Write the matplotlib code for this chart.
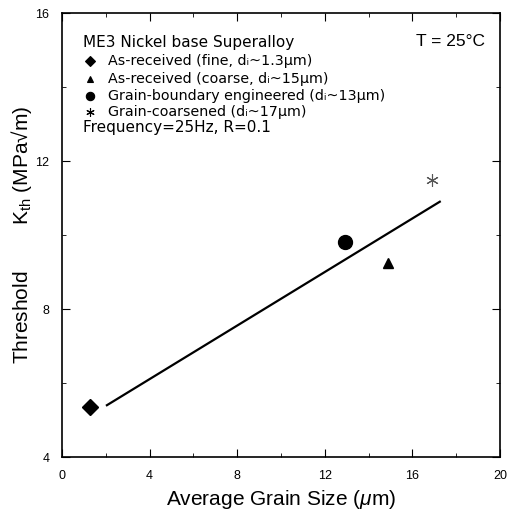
import numpy as np
import matplotlib
matplotlib.use("Agg")
import matplotlib.pyplot as plt

plt.rcParams['font.family'] = ['Liberation Sans', 'DejaVu Sans']
plt.rcParams['mathtext.fontset'] = 'custom'
plt.rcParams['mathtext.rm'] = 'Liberation Sans'
plt.rcParams['mathtext.it'] = 'Liberation Sans:italic'

# data
fine_x = [1.3]
fine_y = [5.35]
coarse_x = [14.9]
coarse_y = [9.25]
gbe_x = [12.9]
gbe_y = [9.8]
gc_x = [16.9]
gc_y = [11.5]
fit_x = [2.05, 17.25]
fit_y = [5.4, 10.9]

labels = ["As-received (fine, d\u1d62~1.3\u03bcm)",
          "As-received (coarse, d\u1d62~15\u03bcm)",
          "Grain-boundary engineered (d\u1d62~13\u03bcm)",
          "Grain-coarsened (d\u1d62~17\u03bcm)"]

fig = plt.figure(figsize=(5.1, 5.25), dpi=100)
ax = fig.add_axes([0.1216, 0.1295, 0.8588, 0.8457])

ax.plot(fit_x, fit_y, '-', color='black', lw=1.6)
ax.plot(fine_x, fine_y, 'D', color='black', ms=8)
ax.plot(gbe_x, gbe_y, 'o', color='black', ms=10)
ax.plot(coarse_x, coarse_y, '^', color='black', ms=7)
ax.plot(gc_x, gc_y, marker=(6, 2, 0), color='#555555', ms=9, mew=0.8, ls='none')

ax.set_xlim(0, 20)
ax.set_ylim(4, 16)
ax.set_xticks([0, 4, 8, 12, 16, 20])
ax.set_yticks([4, 8, 12, 16])
ax.set_xticks([2, 6, 10, 14, 18], minor=True)
ax.set_yticks([6, 10, 14], minor=True)
ax.tick_params(which='both', direction='in', top=True, right=True, labelsize=9)
ax.tick_params(which='major', length=6, pad=9)
ax.tick_params(which='minor', length=3)
for s in ax.spines.values():
    s.set_linewidth(1.2)

ax.set_xlabel("Average Grain Size ($\\mu$m)", fontsize=15, labelpad=5)
ax.set_ylabel("Threshold        K$_{\\rm th}$ (MPa\u221am)", fontsize=15, labelpad=1)

# legend block
tx = 0.048
ys = [0.934, 0.893, 0.851, 0.813, 0.777, 0.743]
ax.text(tx, ys[0], "ME3 Nickel base Superalloy", transform=ax.transAxes,
        fontsize=11, va='center', family='DejaVu Sans')
mk = [('D', 5), ('^', 4), ('o', 6), ((6, 2, 0), 6)]
for i in range(4):
    ax.plot(0.064, ys[i + 1], marker=mk[i][0], ms=mk[i][1], color='black',
            mew=0.8, transform=ax.transAxes, ls='none')
    ax.text(0.105, ys[i + 1], labels[i], transform=ax.transAxes,
            fontsize=10.3, va='center', family='DejaVu Sans')
ax.text(tx, ys[5], "Frequency=25Hz, R=0.1", transform=ax.transAxes,
        fontsize=11, va='center', family='DejaVu Sans')

ax.text(0.965, 0.935, "T = 25°C", transform=ax.transAxes, fontsize=12.5,
        ha='right', va='center')

fig.savefig("out.png", dpi=100)
